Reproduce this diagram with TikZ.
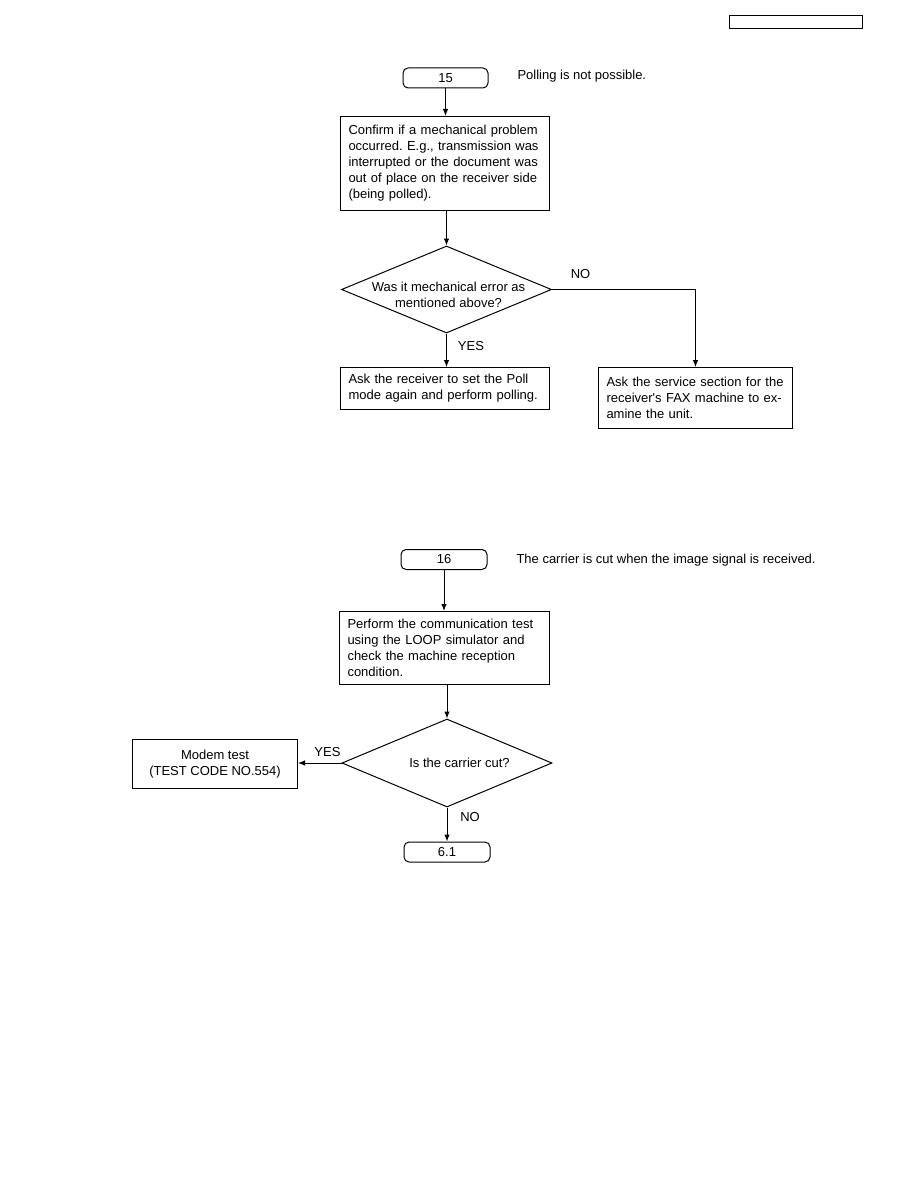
\documentclass[tikz,border=0pt]{standalone}
\usepackage{fontspec}
\setmainfont{Liberation Sans}
\usetikzlibrary{shapes.geometric,arrows.meta}
\begin{document}
\frenchspacing
\begin{tikzpicture}[x=1pt,y=-1pt,
  font=\fontsize{13}{16}\selectfont,
  line width=1pt,
  every node/.style={inner sep=0pt},
  term/.style={draw,rounded corners=5pt,minimum height=20pt},
  box/.style={draw,anchor=north west,inner xsep=8pt,align=left},
  cbox/.style={draw,anchor=north west,align=center},
  dec/.style={draw,diamond,minimum width=210pt,minimum height=87pt},
  arr/.style={-{Latex[length=7pt,width=5.5pt]}}
]
\useasboundingbox (0,0) rectangle (918,1188);
\node[draw,anchor=north west,minimum width=133pt,minimum height=13pt] (hdr) at (729,15) {};

% ---- section 15
\node[term,minimum width=85pt] (t15) at (445.5,78) {15};
\node[anchor=west] (c15) at (517,76) {Polling is not possible.};
\node[box,text width=193pt,minimum width=209pt,minimum height=94pt] (b1) at (340,116)
  {Confirm if a mechanical problem\\occurred. E.g., transmission was\\interrupted or the document was\\out of place on the receiver side\\(being polled).};
\node[dec] (d1) at (446.5,289.5) {};
\node[align=center] (d1t) at (448.5,295) {Was it mechanical error as\\mentioned above?};
\node[box,text width=193pt,minimum width=209pt,minimum height=42pt] (b2) at (340,367)
  {Ask the receiver to set the Poll\\mode again and perform polling.};
\node[box,text width=178pt,minimum width=194pt,minimum height=61pt] (b3) at (598,367)
  {Ask the service section for the\\receiver\textquotesingle s FAX machine to ex-\\amine the unit.};
\draw[arr] (t15.south) -- (t15.south |- b1.north);
\draw[arr] (b1.south -| d1.north) -- (d1.north);
\draw[arr] (d1.south) -- (d1.south |- b2.north);
\node (yes1) at (471,346) {YES};
\draw[arr] (d1.east) -| (b3.north);
\node (no1) at (580.5,274) {NO};

% ---- section 16
\node[term,minimum width=86pt] (t16) at (444,559.5) {16};
\node[anchor=west] (c16) at (516,560) {The carrier is cut when the image signal is received.};
\node[box,text width=194pt,minimum width=210pt,minimum height=73pt] (b4) at (339,611)
  {Perform the communication test\\using the LOOP simulator and\\check the machine reception\\condition.};
\node[dec,minimum height=88pt] (d2) at (447,763) {};
\node (d2t) at (459.5,763) {Is the carrier cut?};
\node[cbox,minimum width=165pt,minimum height=49pt] (m) at (132,739) {Modem test\\(TEST CODE NO.554)};
\node[term,minimum width=86pt] (t61) at (447,852) {6.1};
\draw[arr] (t16.south) -- (t16.south |- b4.north);
\draw[arr] (b4.south -| d2.north) -- (d2.north);
\draw[arr] (d2.west) -- (d2.west -| m.east);
\node (yes2) at (327.5,752) {YES};
\draw[arr] (d2.south) -- (d2.south |- t61.north);
\node (no2) at (470,817) {NO};
\end{tikzpicture}
\end{document}
